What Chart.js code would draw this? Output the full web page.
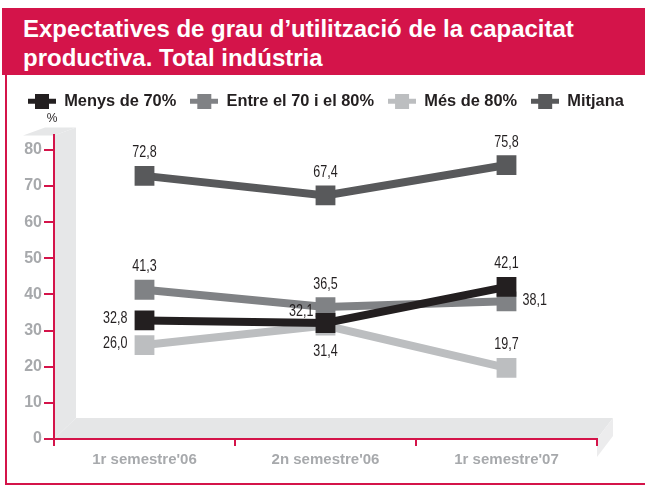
<!DOCTYPE html>
<html><head><meta charset="utf-8">
<script src="https://cdn.jsdelivr.net/npm/chart.js@4.4.1/dist/chart.umd.min.js"></script>
<style>
html,body{margin:0;padding:0;background:#fff;}
#wrap{position:relative;width:645px;height:486px;overflow:hidden;background:#fff;}
#band{position:absolute;left:2px;top:8px;right:0;height:67px;background:#d4144a;}
#title{position:absolute;left:23px;top:14px;color:#fff;font:bold 24px 'Liberation Sans',Arial,sans-serif;line-height:29px;white-space:nowrap;}
#lb{position:absolute;left:5px;top:75px;width:2px;height:410px;background:#d4144a;}
#bb{position:absolute;left:5px;top:483px;right:0;height:2px;background:#d4144a;}
canvas{position:absolute;left:0;top:0;}
</style></head><body>
<div id="wrap">
<canvas id="c" width="645" height="486"></canvas>
<div id="band"></div>
<div id="title">Expectatives de grau d’utilització de la capacitat<br>productiva. Total indústria</div>
<div id="lb"></div><div id="bb"></div>
</div>
<script>
const categories = ["1r semestre'06", "2n semestre'06", "1r semestre'07"];
const menys70 = [32.8, 32.1, 42.1];
const entre70i80 = [41.3, 36.5, 38.1];
const mes80 = [26.0, 31.4, 19.7];
const mitjana = [72.8, 67.4, 75.8];
const seriesNames = ['Menys de 70%', 'Entre el 70 i el 80%', 'Més de 80%', 'Mitjana'];
const yTickValues = [0, 10, 20, 30, 40, 50, 60, 70, 80];
const yUnit = '%';

const RED = '#d4144a';
const colors = ['#231f20', '#808285', '#bcbec0', '#58595b'];
const labelPlacement = [
  ['left', 'leftTop', 'top'],
  ['top', 'top', 'right'],
  ['left', 'bottom', 'top'],
  ['top', 'top', 'top']
];

function legendMarker(color) {
  const c = document.createElement('canvas');
  c.width = 28; c.height = 15;
  const x = c.getContext('2d');
  x.fillStyle = color;
  x.fillRect(0, 5, 28, 5);
  x.fillRect(7, 0, 14, 15);
  return c;
}
const markers = colors.map(legendMarker);

const seriesData = [menys70, entre70i80, mes80, mitjana];
const datasets = seriesData.map((d, i) => ({
  label: seriesNames[i],
  data: d,
  borderColor: colors[i],
  backgroundColor: colors[i],
  borderWidth: 8,
  pointStyle: 'rect',
  pointRadius: 14,
  pointBorderWidth: 0,
  pointBackgroundColor: colors[i],
  tension: 0,
  yAxisID: 'y'
}));

const wallPlugin = {
  id: 'wall',
  beforeDraw(chart) {
    const {ctx, chartArea: a} = chart;
    const L = a.left, R = a.right, T = a.top, B = a.bottom;
    ctx.save();
    ctx.fillStyle = '#e6e7e8';
    ctx.beginPath();
    ctx.moveTo(L, B); ctx.lineTo(L, T); ctx.lineTo(L + 22, T - 8); ctx.lineTo(L + 22, B - 21); ctx.closePath(); ctx.fill();
    ctx.beginPath();
    ctx.moveTo(L - 31, T); ctx.lineTo(L, T); ctx.lineTo(L + 22, T - 8); ctx.lineTo(L - 9, T - 8); ctx.closePath(); ctx.fill();
    ctx.fillStyle = '#e5e6e7';
    ctx.beginPath();
    ctx.moveTo(L, B); ctx.lineTo(R, B); ctx.lineTo(R + 16, B - 21); ctx.lineTo(L + 22, B - 21); ctx.closePath(); ctx.fill();
    ctx.fillStyle = '#ececed';
    ctx.beginPath();
    ctx.moveTo(R, B); ctx.lineTo(R + 16, B - 21); ctx.lineTo(R + 16, B - 3); ctx.lineTo(R, B + 18); ctx.closePath(); ctx.fill();
    ctx.restore();
  },
  afterDraw(chart) {
    const {ctx, chartArea: a} = chart;
    ctx.save();
    ctx.fillStyle = '#231f20';
    ctx.font = '12px "Liberation Sans", Arial, sans-serif';
    ctx.textAlign = 'center';
    ctx.textBaseline = 'middle';
    ctx.fillText(yUnit, a.left - 2, 119);
    ctx.restore();
  }
};

const valueLabels = {
  id: 'valueLabels',
  afterDatasetsDraw(chart) {
    const ctx = chart.ctx;
    const sx = 0.76;
    chart.data.datasets.forEach((ds, di) => {
      const meta = chart.getDatasetMeta(di);
      meta.data.forEach((pt, j) => {
        const txt = ds.data[j].toFixed(1).replace('.', ',');
        const p = labelPlacement[di][j];
        let x = pt.x, y = pt.y, align = 'center';
        if (p === 'top') { y -= 23; }
        else if (p === 'bottom') { y += 26; }
        else if (p === 'left') { align = 'right'; x -= 17; y -= 2; }
        else if (p === 'right') { align = 'left'; x += 16; y -= 1; }
        else if (p === 'leftTop') { align = 'right'; x -= 12; y -= 12; }
        ctx.save();
        ctx.fillStyle = '#231f20';
        ctx.font = '16.5px "Liberation Sans", Arial, sans-serif';
        ctx.textBaseline = 'middle';
        ctx.textAlign = align;
        ctx.translate(x, y);
        ctx.scale(sx, 1);
        ctx.fillText(txt, 0, 0);
        ctx.restore();
      });
    });
  }
};

const legendSpace = {
  id: 'legendSpace',
  beforeInit(chart) {
    const f = chart.legend.fit;
    chart.legend.fit = function () { f.bind(chart.legend)(); this.height += 16; };
  }
};

new Chart(document.getElementById('c'), {
  type: 'line',
  data: { labels: categories, datasets },
  options: {
    responsive: false,
    animation: false,
    layout: { padding: { top: 79, left: 14, right: 4, bottom: 0 } },
    plugins: {
      title: { display: false },
      tooltip: { enabled: false },
      legend: {
        display: true,
        position: 'top',
        align: 'start',
        labels: {
          usePointStyle: true,
          pointStyleWidth: 28,
          padding: 14,
          color: '#231f20',
          font: { family: '"Liberation Sans", Arial, sans-serif', size: 16.4, weight: 'bold' },
          generateLabels(chart) {
            const items = Chart.defaults.plugins.legend.labels.generateLabels(chart);
            items.forEach((it) => { it.pointStyle = markers[it.datasetIndex]; });
            return items;
          }
        }
      }
    },
    scales: {
      x: {
        type: 'category',
        offset: true,
        grid: { offset: true, drawOnChartArea: false, drawTicks: true, tickLength: 7, color: RED, lineWidth: 2 },
        border: { display: true, color: RED, width: 2 },
        ticks: { color: '#a7a9ac', padding: 5, font: { family: '"Liberation Sans", Arial, sans-serif', size: 15, weight: 'bold' } },
        afterFit(s) { s.height = 47; }
      },
      y: {
        position: 'left',
        min: 0,
        max: 84,
        grid: { drawOnChartArea: false, drawTicks: true, tickLength: 10, color: RED, lineWidth: 2 },
        border: { display: true, color: RED, width: 2 },
        ticks: { stepSize: 10, color: '#a7a9ac', padding: 2, font: { family: '"Liberation Sans", Arial, sans-serif', size: 16, weight: 'bold' } },
        afterBuildTicks(s) { s.ticks = yTickValues.map(v => ({ value: v })); },
        afterFit(s) { s.width = 40; }
      },
      yRight: {
        position: 'right',
        min: 0,
        max: 84,
        grid: { display: false, drawTicks: false },
        border: { display: false },
        ticks: { display: false },
        afterFit(s) { s.width = 44; }
      }
    }
  },
  plugins: [wallPlugin, valueLabels, legendSpace]
});
</script>
</body></html>
